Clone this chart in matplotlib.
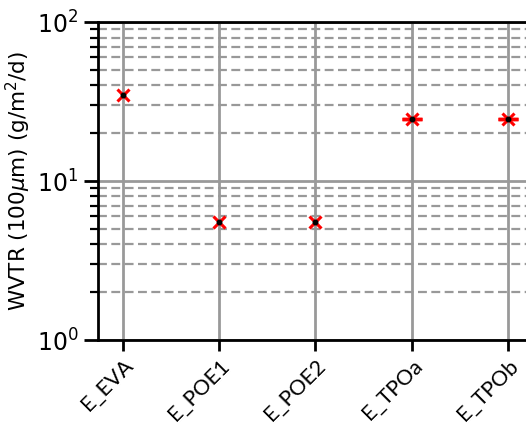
import numpy as np
import matplotlib
matplotlib.use("Agg")
import matplotlib.pyplot as plt
from matplotlib.ticker import LogLocator, NullFormatter

samples = ["E_EVA", "E_POE1", "E_POE2", "E_TPOa", "E_TPOb"]
wvtr = [35.0, 5.5, 5.5, 24.5, 24.5]
wvtr_err = [np.nan, np.nan, np.nan, 0.05, 0.05]

fig = plt.figure(figsize=(5.26, 4.25), dpi=100)
ax = fig.add_axes([0.1863, 0.2, 0.827, 0.748])

x = np.arange(len(samples))
ax.errorbar(x, wvtr, yerr=wvtr_err, fmt="none", ecolor="red",
            capsize=7, capthick=2.5, elinewidth=2, zorder=3)
ax.plot(x, wvtr, "x", color="red", ms=9, mew=2.2, zorder=4)
ax.plot(x, wvtr, ".", color="black", ms=6.5, zorder=5)

ax.set_yscale("log")
ax.set_ylim(1, 100)
ax.set_xlim(-0.26, 4.26)
ax.yaxis.set_major_locator(LogLocator(base=10))
ax.yaxis.set_minor_locator(LogLocator(base=10, subs=np.arange(2, 10)))
ax.yaxis.set_minor_formatter(NullFormatter())

ax.grid(True, which="major", color="#999999", lw=2, ls="-")
ax.grid(True, which="minor", axis="y", color="#999999", lw=1.6,
        ls=(0, (4, 2)))
ax.set_axisbelow(True)

ax.set_xticks(x)
ax.set_xticklabels(samples, rotation=45, ha="right", rotation_mode="anchor",
                   fontsize=15.5, family="Lato")
ax.tick_params(axis="y", which="major", labelsize=17, length=10, width=2,
               pad=4)
ax.tick_params(axis="y", which="minor", length=6, width=1.6)
ax.tick_params(axis="x", length=8, width=2, pad=3)
ax.set_ylabel(r"WVTR (100$\mu$m) (g/m$^2$/d)", fontsize=15.5)
ax.yaxis.set_label_coords(-0.149, 0.5)
for s in ax.spines.values():
    s.set_linewidth(2)

fig.savefig("out.png", dpi=100)
